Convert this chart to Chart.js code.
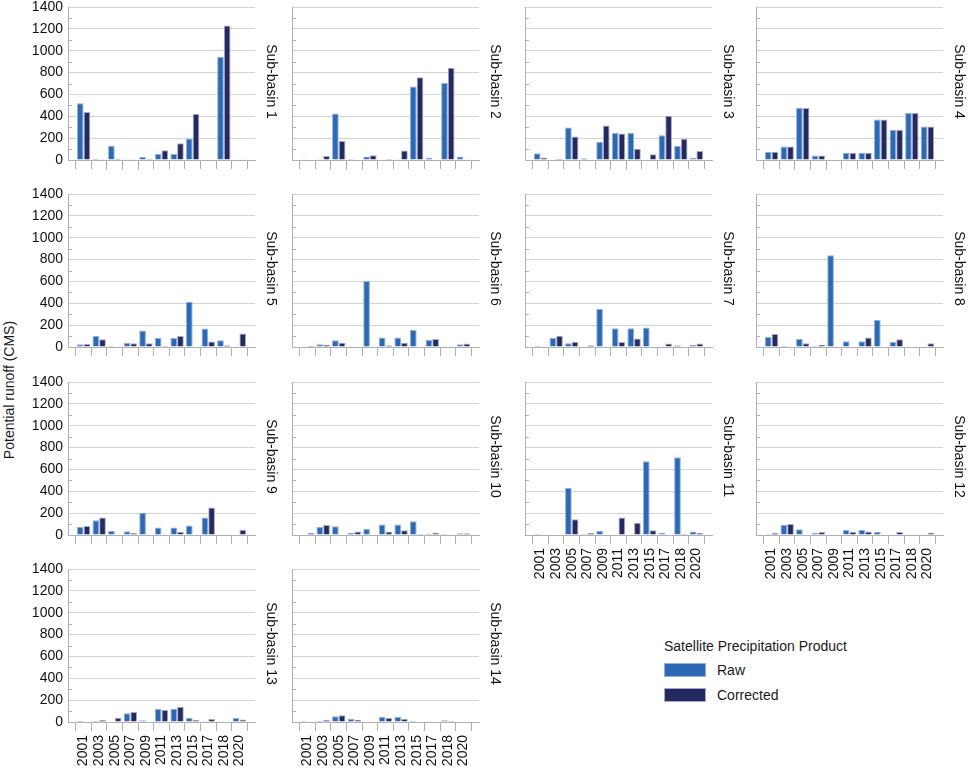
<!DOCTYPE html>
<html>
<head>
<meta charset="utf-8">
<title>Potential runoff by sub-basin</title>
<script src="https://cdn.jsdelivr.net/npm/chart.js@4.4.1/dist/chart.umd.min.js"></script>
<style>
  html, body { margin: 0; padding: 0; background: #fff; }
  body {
    position: relative;
    width: 968px;
    height: 770px;
    overflow: hidden;
    font-family: "Liberation Sans", Arial, sans-serif;
    color: #1a1a1a;
  }
  canvas.panel { position: absolute; }
  #yTitle {
    position: absolute;
    left: 9px;
    top: 390px;
    transform: translate(-50%, -50%) rotate(-90deg);
    white-space: nowrap;
    font-size: 14px;
  }
  .legend-text { position: absolute; font-size: 14px; white-space: nowrap; line-height: 16px; }
  .legend-swatch { position: absolute; width: 42px; height: 14px; box-sizing: border-box; }
</style>
</head>
<body>
<div id="yTitle">Potential runoff (CMS)</div>
<div class="legend-text" style="left:664px; top:638px;">Satellite Precipitation Product</div>
<div class="legend-swatch" id="rawSwatch" style="left:664px; top:663px;"></div>
<div class="legend-text" id="rawLabel" style="left:717px; top:662px;"></div>
<div class="legend-swatch" id="corrSwatch" style="left:664px; top:688px;"></div>
<div class="legend-text" id="corrLabel" style="left:717px; top:687px;"></div>

<script>
// Years on the x axis (one pair of bars per year).
const YEARS = ["2001", "2003", "2005", "2007", "2009", "2011", "2013", "2015", "2017", "2018", "2020"];
const SERIES_NAMES = ["Raw", "Corrected"];
const Y_MAX = 1400;
const Y_STEP = 200;

// Potential runoff (CMS), per sub-basin.
const RAW_SB1 = [520, 12, 129, 3, 28, 55, 55, 197, 6, 945, 6];
const CORR_SB1 = [440, 2, 12, 2, 9, 89, 154, 422, 6, 1230, 3];
const RAW_SB2 = [6, 2, 426, 9, 33, 3, 2, 672, 21, 706, 33];
const CORR_SB2 = [0, 37, 173, 0, 43, 9, 88, 758, 0, 843, 6];
const RAW_SB3 = [61, 6, 297, 15, 164, 248, 248, 6, 227, 127, 18];
const CORR_SB3 = [24, 12, 215, 6, 315, 242, 103, 52, 406, 194, 82];
const RAW_SB4 = [76, 124, 476, 42, 4, 67, 67, 370, 276, 430, 306];
const CORR_SB4 = [76, 124, 476, 42, 0, 67, 67, 370, 276, 430, 306];
const RAW_SB5 = [25, 100, 10, 37, 150, 83, 83, 412, 170, 62, 2];
const CORR_SB5 = [28, 70, 0, 34, 34, 9, 100, 0, 50, 15, 123];
const RAW_SB6 = [3, 25, 61, 2, 605, 86, 86, 156, 64, 3, 25];
const CORR_SB6 = [12, 21, 40, 6, 3, 15, 40, 0, 74, 3, 31];
const RAW_SB7 = [12, 83, 34, 6, 349, 172, 172, 178, 6, 15, 18];
const CORR_SB7 = [0, 104, 49, 15, 0, 46, 77, 0, 31, 0, 31];
const RAW_SB8 = [92, 12, 74, 9, 840, 52, 52, 248, 46, 0, 6];
const CORR_SB8 = [120, 3, 34, 21, 0, 0, 86, 0, 70, 0, 34];
const RAW_SB9 = [74, 135, 37, 34, 203, 68, 68, 86, 160, 3, 5];
const CORR_SB9 = [83, 160, 0, 18, 5, 8, 30, 0, 252, 8, 49];
const RAW_SB10 = [6, 73, 79, 21, 55, 97, 97, 125, 12, 9, 15];
const CORR_SB10 = [18, 91, 0, 33, 0, 33, 43, 9, 21, 0, 15];
const RAW_SB11 = [9, 0, 429, 9, 36, 0, 0, 675, 21, 711, 33];
const CORR_SB11 = [0, 3, 143, 18, 0, 161, 112, 43, 0, 9, 18];
const RAW_SB12 = [9, 94, 52, 18, 2, 46, 46, 30, 0, 3, 6];
const CORR_SB12 = [18, 100, 6, 27, 0, 30, 33, 0, 27, 3, 21];
const RAW_SB13 = [12, 12, 0, 79, 15, 122, 122, 40, 2, 6, 37];
const CORR_SB13 = [0, 18, 40, 91, 0, 110, 140, 18, 27, 0, 24];
const RAW_SB14 = [9, 12, 52, 30, 0, 45, 45, 12, 3, 15, 3];
const CORR_SB14 = [0, 18, 61, 21, 3, 36, 30, 0, 0, 9, 0];

const PANELS = [
  ["Sub-basin 1", RAW_SB1, CORR_SB1],
  ["Sub-basin 2", RAW_SB2, CORR_SB2],
  ["Sub-basin 3", RAW_SB3, CORR_SB3],
  ["Sub-basin 4", RAW_SB4, CORR_SB4],
  ["Sub-basin 5", RAW_SB5, CORR_SB5],
  ["Sub-basin 6", RAW_SB6, CORR_SB6],
  ["Sub-basin 7", RAW_SB7, CORR_SB7],
  ["Sub-basin 8", RAW_SB8, CORR_SB8],
  ["Sub-basin 9", RAW_SB9, CORR_SB9],
  ["Sub-basin 10", RAW_SB10, CORR_SB10],
  ["Sub-basin 11", RAW_SB11, CORR_SB11],
  ["Sub-basin 12", RAW_SB12, CORR_SB12],
  ["Sub-basin 13", RAW_SB13, CORR_SB13],
  ["Sub-basin 14", RAW_SB14, CORR_SB14],
];

// Styling and panel placement.
const RAW_COLOR = "#2d69b3";
const RAW_EDGE = "#8fb0de";
const CORR_COLOR = "#242a5e";
const CORR_EDGE = "#a4a7cf";
const GRID_COLOR = "#d3d3d3";
const AXIS_COLOR = "#b0b0b0";
const TEXT_COLOR = "#111111";
const FONT_FAMILY = "'Liberation Sans', Arial, sans-serif";

const COLUMN_LEFT = [68, 292, 525, 756];
const ROW_TOP = [7, 194, 382, 569];
const PLOT_WIDTH = 187;
const PLOT_HEIGHT = 153;
const Y_AXIS_WIDTH = 68;
// Room above and below the plot; big enough that the y labels never push the plot area.
const TOP_SPACE = 14;
const X_AXIS_PLAIN = 14;
const X_AXIS_LABELLED = 56;
const SIDE_SPACE = 32;

// Short inside ticks half-way between the gridlines.
const minorTickPlugin = {
  id: "minorTicks",
  beforeDatasetsDraw(chart) {
    const { ctx, chartArea, scales } = chart;
    ctx.save();
    ctx.strokeStyle = AXIS_COLOR;
    ctx.lineWidth = 1;
    for (let v = Y_STEP / 2; v < Y_MAX; v += Y_STEP) {
      const y = Math.round(scales.y.getPixelForValue(v)) + 0.5;
      ctx.beginPath();
      ctx.moveTo(chartArea.left, y);
      ctx.lineTo(chartArea.left + 4, y);
      ctx.stroke();
    }
    ctx.restore();
  },
};

// Sub-basin name written top-to-bottom at the right of each panel.
const sideLabelPlugin = {
  id: "sideLabel",
  afterDraw(chart, args, opts) {
    const { ctx, chartArea } = chart;
    ctx.save();
    ctx.translate(chartArea.right + 16, (chartArea.top + chartArea.bottom) / 2 - 2);
    ctx.rotate(Math.PI / 2);
    ctx.font = `14px ${FONT_FAMILY}`;
    ctx.fillStyle = TEXT_COLOR;
    ctx.textAlign = "center";
    ctx.textBaseline = "middle";
    ctx.fillText(opts.text, 0, 0);
    ctx.restore();
  },
};

function padEnds(values) {
  return [null, ...values, null];
}

function createPanel([name, raw, corrected], index) {
  const col = index % 4;
  const row = Math.floor(index / 4);
  const showYLabels = col === 0;
  const showXLabels = index >= 10;
  const xHeight = showXLabels ? X_AXIS_LABELLED : X_AXIS_PLAIN;

  const canvas = document.createElement("canvas");
  canvas.className = "panel";
  canvas.width = Y_AXIS_WIDTH + PLOT_WIDTH + SIDE_SPACE;
  canvas.height = TOP_SPACE + PLOT_HEIGHT + xHeight;
  canvas.style.left = `${COLUMN_LEFT[col] - Y_AXIS_WIDTH}px`;
  canvas.style.top = `${ROW_TOP[row] - TOP_SPACE}px`;
  document.body.appendChild(canvas);

  new Chart(canvas, {
    type: "bar",
    data: {
      labels: padEnds(YEARS).map((y) => y || ""),
      datasets: [
        {
          label: SERIES_NAMES[0],
          data: padEnds(raw),
          backgroundColor: RAW_COLOR,
          borderColor: RAW_EDGE,
          borderWidth: 1,
        },
        {
          label: SERIES_NAMES[1],
          data: padEnds(corrected),
          backgroundColor: CORR_COLOR,
          borderColor: CORR_EDGE,
          borderWidth: 1,
        },
      ],
    },
    options: {
      responsive: false,
      animation: false,
      layout: { padding: { top: TOP_SPACE, right: SIDE_SPACE, left: 0, bottom: 0 } },
      datasets: { bar: { categoryPercentage: 0.86, barPercentage: 1 } },
      plugins: {
        legend: { display: false },
        tooltip: { enabled: false },
        sideLabel: { text: name },
      },
      scales: {
        x: {
          type: "category",
          offset: false,
          grid: { drawOnChartArea: false, drawTicks: true, tickLength: 9, color: AXIS_COLOR },
          border: { color: AXIS_COLOR },
          ticks: {
            display: showXLabels,
            autoSkip: false,
            minRotation: 90,
            maxRotation: 90,
            padding: 4,
            color: TEXT_COLOR,
            font: { size: 14, family: FONT_FAMILY },
          },
          afterFit(scale) {
            scale.height = xHeight;
          },
        },
        y: {
          min: 0,
          max: Y_MAX,
          ticks: {
            stepSize: Y_STEP,
            display: showYLabels,
            padding: 5,
            color: TEXT_COLOR,
            font: { size: 14, family: FONT_FAMILY },
            callback(value) {
              return String(value);
            },
          },
          grid: { color: GRID_COLOR, drawTicks: false },
          border: { color: AXIS_COLOR },
          afterFit(scale) {
            scale.width = Y_AXIS_WIDTH;
          },
        },
      },
    },
    plugins: [minorTickPlugin, sideLabelPlugin],
  });
}

document.addEventListener("DOMContentLoaded", () => {
  document.getElementById("rawSwatch").style.background = RAW_COLOR;
  document.getElementById("rawSwatch").style.border = `1px solid ${RAW_EDGE}`;
  document.getElementById("corrSwatch").style.background = CORR_COLOR;
  document.getElementById("corrSwatch").style.border = `1px solid ${CORR_EDGE}`;
  document.getElementById("rawLabel").textContent = SERIES_NAMES[0];
  document.getElementById("corrLabel").textContent = SERIES_NAMES[1];

  PANELS.forEach(createPanel);
});
</script>
</body>
</html>
